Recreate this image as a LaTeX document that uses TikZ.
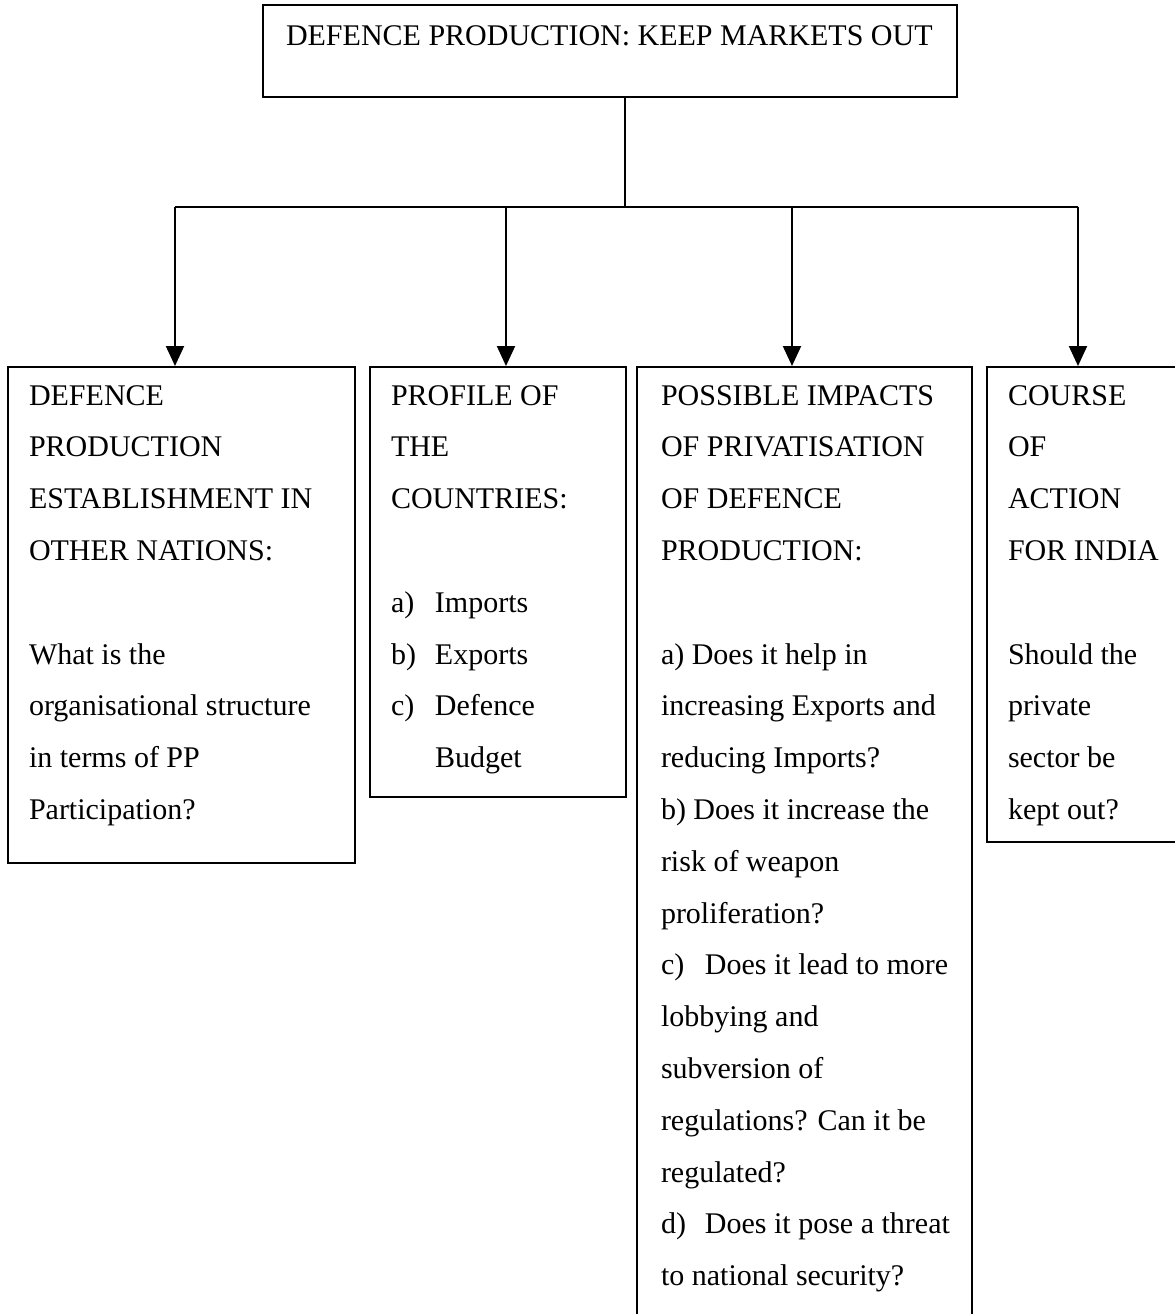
\documentclass[tikz,border=0pt]{standalone}
\usepackage{fontspec}
\setmainfont{Liberation Serif}
\usetikzlibrary{arrows.meta}

\newlength{\du}
\setlength{\du}{15\unitlength}

\tikzset{
  panel/.style={draw, rectangle, inner sep=0pt},
  linetext/.style={anchor=base west, inner sep=0pt, font=\fontsize{12}{14}\selectfont},
  arrowline/.style={-{Triangle[length=8pt,width=7.2pt]}},
}
\newcommand{\itemlbl}[1]{\makebox[17.6pt][l]{#1}}

\begin{document}
\begin{tikzpicture}
\pgftransformxscale{1.000000}
\pgftransformyscale{-1.000000}
\definecolor{dialinecolor}{rgb}{0.000000, 0.000000, 0.000000}
\pgfsetstrokecolor{dialinecolor}
\pgfsetlinewidth{0.053333\du}
\pgfsetbuttcap
\pgfsetmiterjoin
\useasboundingbox (0.000000\du,0.000000\du) rectangle (31.333333\du,35.040000\du);
\clip (0.000000\du,0.000000\du) rectangle (31.333333\du,35.040000\du);
% top box
\node[panel, minimum width=18.506667\du, minimum height=2.453333\du] (top) at (16.266667\du,1.360000\du){};
% setfont left to latex
\node[linetext] (toptxt) at (7.600000\du,1.200000\du){DEFENCE PRODUCTION: KEEP MARKETS OUT};
% four boxes below
\node[panel, minimum width=9.253333\du, minimum height=13.226667\du] (nations) at (4.840000\du,16.400000\du){};
\node[panel, minimum width=6.826667\du, minimum height=11.466667\du] (profile) at (13.280000\du,15.520000\du){};
\node[panel, minimum width=8.933333\du, minimum height=25.946667\du] (impacts) at (21.453333\du,22.760000\du){};
\node[panel, minimum width=5.680000\du, minimum height=12.666667\du] (course) at (29.160000\du,16.120000\du){};
% junctions
\coordinate (hub) at (16.666667\du,5.520000\du);
\coordinate (j1) at (4.666667\du,5.520000\du);
\coordinate (j2) at (13.493333\du,5.520000\du);
\coordinate (j3) at (21.120000\du,5.520000\du);
\coordinate (j4) at (28.746667\du,5.520000\du);
\draw (hub |- top.south)--(hub);
\draw (j1)--(j4);
\draw[arrowline] (j1)--(j1 |- nations.north);
\draw[arrowline] (j2)--(j2 |- profile.north);
\draw[arrowline] (j3)--(j3 |- impacts.north);
\draw[arrowline] (j4)--(j4 |- course.north);
% setfont left to latex
\node[linetext] (na1) at (0.746667\du,10.800000\du){DEFENCE};
\node[linetext] (na2) at (0.746667\du,12.181333\du){PRODUCTION};
\node[linetext] (na3) at (0.746667\du,13.562667\du){ESTABLISHMENT IN};
\node[linetext] (na4) at (0.746667\du,14.944000\du){OTHER NATIONS:};
\node[linetext] (na5) at (0.746667\du,17.706667\du){What is the};
\node[linetext] (na6) at (0.746667\du,19.088000\du){organisational structure};
\node[linetext] (na7) at (0.746667\du,20.469333\du){in terms of PP};
\node[linetext] (na8) at (0.746667\du,21.850667\du){Participation?};
% setfont left to latex
\node[linetext] (pr1) at (10.400000\du,10.800000\du){PROFILE OF};
\node[linetext] (pr2) at (10.400000\du,12.181333\du){THE};
\node[linetext] (pr3) at (10.400000\du,13.562667\du){COUNTRIES:};
\node[linetext] (pr4) at (10.400000\du,16.325333\du){\itemlbl{a)}Imports};
\node[linetext] (pr5) at (10.400000\du,17.706667\du){\itemlbl{b)}Exports};
\node[linetext] (pr6) at (10.400000\du,19.088000\du){\itemlbl{c)}Defence};
\node[linetext] (pr7) at (11.573333\du,20.469333\du){Budget};
% setfont left to latex
\node[linetext] (im1) at (17.600000\du,10.800000\du){POSSIBLE IMPACTS};
\node[linetext] (im2) at (17.600000\du,12.181333\du){OF PRIVATISATION};
\node[linetext] (im3) at (17.600000\du,13.562667\du){OF DEFENCE};
\node[linetext] (im4) at (17.600000\du,14.944000\du){PRODUCTION:};
\node[linetext] (im5) at (17.600000\du,17.706667\du){a) Does it help in};
\node[linetext] (im6) at (17.600000\du,19.088000\du){increasing Exports and};
\node[linetext] (im7) at (17.600000\du,20.469333\du){reducing Imports?};
\node[linetext] (im8) at (17.600000\du,21.850667\du){b) Does it increase the};
\node[linetext] (im9) at (17.600000\du,23.232000\du){risk of weapon};
\node[linetext] (im10) at (17.600000\du,24.613333\du){proliferation?};
\node[linetext] (im11) at (17.600000\du,25.994667\du){\itemlbl{c)}Does it lead to more};
\node[linetext] (im12) at (17.600000\du,27.376000\du){lobbying and};
\node[linetext] (im13) at (17.600000\du,28.757333\du){subversion of};
\node[linetext] (im14) at (17.600000\du,30.138667\du){regulations? Can it be};
\node[linetext] (im15) at (17.600000\du,31.520000\du){regulated?};
\node[linetext] (im16) at (17.600000\du,32.901333\du){\itemlbl{d)}Does it pose a threat};
\node[linetext] (im17) at (17.600000\du,34.282667\du){to national security?};
% setfont left to latex
\node[linetext] (co1) at (26.853333\du,10.800000\du){COURSE};
\node[linetext] (co2) at (26.853333\du,12.181333\du){OF};
\node[linetext] (co3) at (26.853333\du,13.562667\du){ACTION};
\node[linetext] (co4) at (26.853333\du,14.944000\du){FOR INDIA};
\node[linetext] (co5) at (26.853333\du,17.706667\du){Should the};
\node[linetext] (co6) at (26.853333\du,19.088000\du){private};
\node[linetext] (co7) at (26.853333\du,20.469333\du){sector be};
\node[linetext] (co8) at (26.853333\du,21.850667\du){kept out?};
\end{tikzpicture}
\end{document}
